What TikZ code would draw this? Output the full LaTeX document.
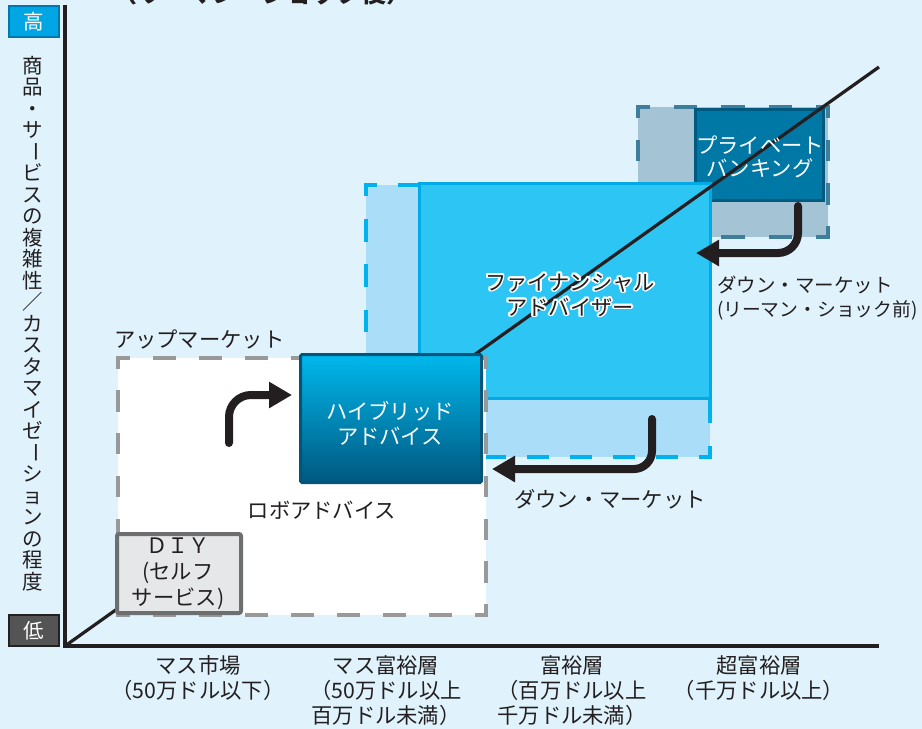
\documentclass[tikz,border=0pt]{standalone}
\usepackage{fontspec}
\setmainfont{Noto Sans CJK JP}
\usetikzlibrary{arrows.meta}
\definecolor{bgc}{RGB}{224,242,251}
\definecolor{inkc}{RGB}{35,31,32}
\definecolor{hic}{RGB}{0,166,227}
\definecolor{hibd}{RGB}{0,120,175}
\definecolor{loc}{RGB}{84,84,84}
\definecolor{lobd}{RGB}{34,34,34}
\definecolor{robod}{RGB}{153,153,153}
\definecolor{fadfill}{RGB}{170,222,248}
\definecolor{faddash}{RGB}{0,178,238}
\definecolor{fafill}{RGB}{44,197,244}
\definecolor{fabd}{RGB}{0,170,230}
\definecolor{pbdfill}{RGB}{164,195,212}
\definecolor{pbddash}{RGB}{62,125,156}
\definecolor{pbfill}{RGB}{0,120,166}
\definecolor{pbbd}{RGB}{0,90,128}
\definecolor{hybtop}{RGB}{0,184,236}
\definecolor{hybbot}{RGB}{0,88,128}
\definecolor{hybbd}{RGB}{0,85,120}
\definecolor{diyfill}{RGB}{230,231,232}
\definecolor{diybd}{RGB}{109,110,112}
\newcommand\vbarchar{\raisebox{3pt}{\rotatebox[origin=c]{-90}{ー}}}
\begin{document}
\begin{tikzpicture}[x=1pt,y=-1pt,
  lbl/.style={font=\fontsize{21.3}{25}\selectfont, text=inkc, inner sep=0pt, outer sep=0pt, align=center},
  wlbl/.style={lbl, text=white},
  area/.style={inner sep=0pt, outer sep=0pt},
  dside/.style 2 args={line width=4pt, line cap=rect, dash pattern=on #1pt off #2pt},
  arr/.style={line width=8pt, draw=inkc, rounded corners=#1, line cap=round, -{Triangle[length=23pt,width=25pt]}},
  arr/.default=22pt,
  axisline/.style={line width=3.5pt, draw=inkc},
  diagline/.style={line width=3.2pt, draw=inkc},
]
\fill[bgc] (0,0) rectangle (922,729);
\useasboundingbox (0,0) rectangle (922,729);

% title (cut at top)
\node[lbl, font=\fontsize{25}{28}\selectfont\bfseries, anchor=base] (ttl) at (262,2.5) {（リーマン・ショック後）};

% private banking
\node[area, fill=pbdfill, minimum width=190pt, minimum height=130pt] (pbd) at (733,172) {};
\draw[dside={19.75}{27.75}, dash phase=9.875pt, draw=pbddash] (pbd.north west) -- (pbd.north east);
\draw[dside={19.75}{27.75}, dash phase=9.875pt, draw=pbddash] (pbd.south west) -- (pbd.south east);
\draw[dside={17.67}{25.66}, dash phase=8.83pt, draw=pbddash] (pbd.north west) -- (pbd.south west);
\draw[dside={17.67}{25.66}, dash phase=8.83pt, draw=pbddash] (pbd.north east) -- (pbd.south east);
\node[area, fill=pbfill, draw=pbbd, line width=3pt, minimum width=128pt, minimum height=91pt] (pb) at (759.5,155) {};

% financial adviser
\node[area, fill=fadfill, minimum width=344pt, minimum height=272pt] (fad) at (538,321) {};
\draw[dside={17.5}{25.5}, dash phase=8.75pt, draw=faddash] (fad.north west) -- (fad.north east);
\draw[dside={17.5}{25.5}, dash phase=8.75pt, draw=faddash] (fad.south west) -- (fad.south east);
\draw[dside={18.7}{26.63}, dash phase=9.35pt, draw=faddash] (fad.north west) -- (fad.south west);
\draw[dside={18.7}{26.63}, dash phase=9.35pt, draw=faddash] (fad.north east) -- (fad.south east);
\node[area, fill=fafill, draw=fabd, line width=3pt, minimum width=291pt, minimum height=215pt] (fa) at (565,291) {};

% diagonal
\coordinate (O) at (65,646);
\coordinate (ytop) at (65,5);
\coordinate (xend) at (879,646);
\coordinate (dend) at (879,67);
\draw[diagline] (O) -- (dend);

% robo advice area
\node[area, fill=white, minimum width=368pt, minimum height=257pt] (robo) at (302,486.5) {};
\draw[dside={19}{27}, dash phase=9.5pt, draw=robod] (robo.north west) -- (robo.north east);
\draw[dside={19}{27}, dash phase=9.5pt, draw=robod] (robo.south west) -- (robo.south east);
\draw[dside={17.4}{25.43}, dash phase=8.7pt, draw=robod] (robo.north west) -- (robo.south west);
\draw[dside={17.4}{25.43}, dash phase=8.7pt, draw=robod] (robo.north east) -- (robo.south east);

% hybrid
\node[area, draw=hybbd, line width=3pt, rounded corners=1.5pt, top color=hybtop, bottom color=hybbot, minimum width=181pt, minimum height=128pt] (hyb) at (391,418.5) {};

% DIY
\node[area, fill=diyfill, draw=diybd, line width=4pt, rounded corners=2pt, minimum width=124pt, minimum height=79pt] (diy) at (179,573.5) {};

% axes
\draw[axisline] (ytop) -- (O) -- (xend);

% high / low markers
\node[area, fill=hic, draw=hibd, line width=2pt, minimum width=50pt, minimum height=31pt, text=white, font=\fontsize{20.5}{24}\selectfont] (hi) at (34,21.5) {高};
\node[area, fill=loc, draw=lobd, line width=2pt, minimum width=50pt, minimum height=31pt, text=white, font=\fontsize{20.5}{24}\selectfont] (lo) at (34,630.5) {低};

% y-axis label (vertical)
\node[lbl, font=\fontsize{20.5}{21.5}\selectfont] (ylab) at (33,323.5) {商\\品\\・\\サ\\\vbarchar\\ビ\\ス\\の\\複\\雑\\性\\／\\カ\\ス\\タ\\マ\\イ\\ゼ\\\vbarchar\\シ\\ョ\\ン\\の\\程\\度};

% arrows
\coordinate (a1s) at (229,443);
\coordinate (a1e) at (292,395);
\draw[arr] (a1s) |- (a1e);
\coordinate (a2s) at (798,206);
\coordinate (a2e) at (696,253);
\draw[arr=20pt] (a2s) |- (a2e);
\coordinate (a3s) at (652,419);
\coordinate (a3e) at (492,469);
\draw[arr=18pt] (a3s) |- (a3e);

% box labels
\node[wlbl, font=\fontsize{21.3}{23}\selectfont] (pbtext) at (760,157) {プライベート\\バンキング};
\node[wlbl] (hybtext) at (390,423) {ハイブリッド\\アドバイス};
\coordinate (falab) at (570,295);
\foreach \a in {0,22.5,...,337.5}
  \node[lbl, text=white, shift={(\a:1.8)}] at (falab) {ファイナンシャル\\アドバイザー};
\node[lbl] (fatext) at (falab) {ファイナンシャル\\アドバイザー};
\node[lbl, font=\fontsize{21.3}{26}\selectfont] (diytext) at (178,574) {ＤＩＹ\\(セルフ\\サービス)};
\node[lbl] (robotext) at (322,510) {ロボアドバイス};
\node[lbl, anchor=west] (upm) at (114,339) {アップマーケット};
\node[lbl, align=left, anchor=west, font=\fontsize{19.5}{24}\selectfont] (dm1) at (717,298) {ダウン・マーケット\\{\fontsize{18.8}{24}\selectfont (リーマン・ショック前)}};
\node[lbl] (dm2) at (610,499) {ダウン・マーケット};

% x-axis labels
\node[lbl] (x1) at (198,678.5) {マス市場\\（50万ドル以下）};
\node[lbl] (x2) at (386,690.5) {マス富裕層\\（50万ドル以上\\百万ドル未満）};
\node[lbl] (x3) at (572,690.5) {富裕層\\（百万ドル以上\\千万ドル未満）};
\node[lbl] (x4) at (759,678.5) {超富裕層\\（千万ドル以上）};
\end{tikzpicture}
\end{document}
